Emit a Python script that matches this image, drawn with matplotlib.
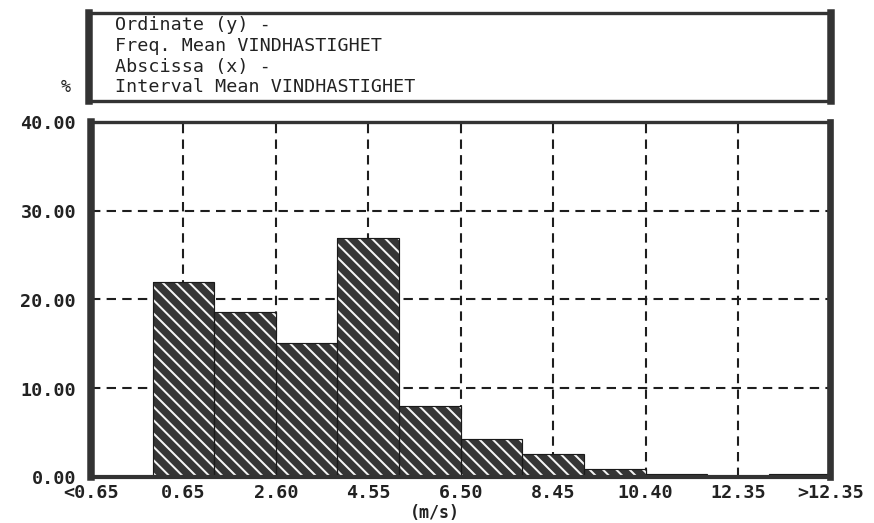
import matplotlib
matplotlib.use("Agg")
import matplotlib.pyplot as plt

# ---- data ----
bin_index = list(range(12))
freq_pct = [0.0, 22.0, 18.6, 15.1, 26.9, 8.0, 4.3, 2.6, 0.9, 0.35, 0.0, 0.35]
tick_pos = [0, 1.5, 3, 4.5, 6, 7.5, 9, 10.5, 12]
tick_labels = ["<0.65", "0.65", "2.60", "4.55", "6.50", "8.45", "10.40", "12.35", ">12.35"]
y_ticks = [0, 10, 20, 30, 40]
y_labels = ["0.00", "10.00", "20.00", "30.00", "40.00"]
header_lines = ["Ordinate (y) -", "Freq. Mean VINDHASTIGHET",
                "Abscissa (x) -", "Interval Mean VINDHASTIGHET"]

plt.rcParams['font.family'] = ['DejaVu Sans Mono']
plt.rcParams['hatch.linewidth'] = 1.2

DPI = 120
fig = plt.figure(figsize=(874.4 / DPI, 523.4 / DPI), dpi=DPI)
fig.patch.set_facecolor("white")

W, H = 874.0, 523.0
ax = fig.add_axes([91 / W, 1 - 477 / H, (830 - 91) / W, (477 - 122) / H])

centers = [i + 0.5 for i in bin_index]
dark = "#353535"
# dark fill
ax.bar(centers, freq_pct, width=1.0, color=dark, linewidth=0, zorder=2)
# white diagonal stripes
ax.bar(centers, freq_pct, width=1.0, facecolor="none", edgecolor="#f4f4f4",
       hatch="\\\\\\", linewidth=0, zorder=3)
# outline
ax.bar(centers, freq_pct, width=1.0, facecolor="none", edgecolor="#1a1a1a",
       linewidth=0.7, zorder=4)

ax.set_xlim(0, 12)
ax.set_ylim(0, 40)
ax.set_xticks(tick_pos)
ax.set_xticklabels(tick_labels)
ax.set_yticks(y_ticks)
ax.set_yticklabels(y_labels)
for lab in ax.get_xticklabels() + ax.get_yticklabels():
    lab.set_fontweight("bold")
    lab.set_fontsize(11)
    lab.set_color("#222222")
ax.tick_params(axis="both", length=0)
ax.tick_params(axis="y", pad=9)
ax.tick_params(axis="x", pad=4)

ax.grid(True, color="#1e1e1e", linestyle=(0, (4.5, 3)), linewidth=1.25, zorder=1)
ax.set_axisbelow(True)

for side, lw in (("left", 4.5), ("right", 4.0), ("top", 2.0), ("bottom", 2.5)):
    ax.spines[side].set_linewidth(lw)
    ax.spines[side].set_color("#333333")
    ax.spines[side].set_zorder(6)

ax.set_xlabel("(m/s)", fontsize=10, fontweight="bold", color="#222222")
ax.xaxis.set_label_coords((435 - 91) / (830 - 91), -0.074)

# ---- header box ----
hx = fig.add_axes([89 / W, 1 - 101 / H, (831 - 89) / W, (101 - 13) / H])
hx.set_xticks([])
hx.set_yticks([])
for side, lw in (("left", 4.5), ("right", 4.5), ("top", 2.0), ("bottom", 2.0)):
    hx.spines[side].set_linewidth(lw)
    hx.spines[side].set_color("#333333")
ys = [(101 - 25) / 88, (101 - 46) / 88, (101 - 67) / 88, (101 - 87) / 88]
for txt, yy in zip(header_lines, ys):
    hx.text((115 - 89) / 742, yy, txt, transform=hx.transAxes, ha="left",
            va="center", fontsize=11, color="#222222")

fig.text(66 / W, 1 - 87 / H, "%", ha="center", va="center", fontsize=10,
         color="#222222")

fig.savefig("out.png", dpi=DPI, facecolor="white")
